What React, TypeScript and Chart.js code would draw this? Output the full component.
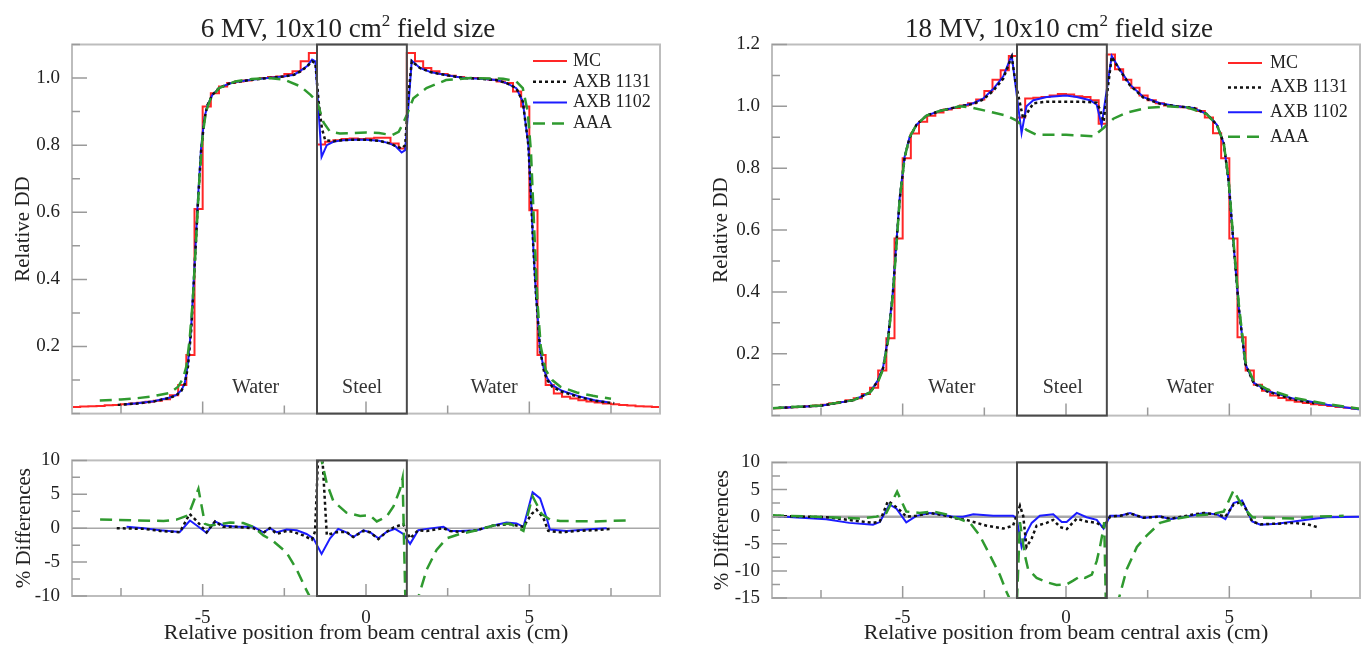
import React, { useEffect, useRef } from "react";
import { Chart, registerables } from "chart.js";

Chart.register(...registerables);

const SERIF = "'Liberation Serif', 'Times New Roman', Times, serif";
const TEXT = "#222222";

// ---------- shared axes / geometry data ----------
const STEEL_SLAB = [-1.5, 1.25];
const X_TICKS = [-7.5, -5, -2.5, 0, 2.5, 5, 7.5];
const X_LABELS = [-5, 0, 5];
const REGION_NAMES = ["Water", "Steel", "Water"];
const SERIES_LABELS = ["MC", "AXB 1131", "AXB 1102", "AAA"];

const Y6_TOP_TICKS = [0, 0.1, 0.2, 0.3, 0.4, 0.5, 0.6, 0.7, 0.8, 0.9, 1.0, 1.1];
const Y6_TOP_LABELS = [0.2, 0.4, 0.6, 0.8, 1.0];
const Y18_TOP_TICKS = [0, 0.1, 0.2, 0.3, 0.4, 0.5, 0.6, 0.7, 0.8, 0.9, 1.0, 1.1, 1.2];
const Y18_TOP_LABELS = [0.2, 0.4, 0.6, 0.8, 1.0, 1.2];
const Y6_DIFF_TICKS = [-10, -7.5, -5, -2.5, 0, 2.5, 5, 7.5, 10];
const Y6_DIFF_LABELS = [-10, -5, 0, 5, 10];
const Y18_DIFF_TICKS = [-15, -12.5, -10, -7.5, -5, -2.5, 0, 2.5, 5, 7.5, 10];
const Y18_DIFF_LABELS = [-15, -10, -5, 0, 5, 10];

const REGION_X_6 = [-3.38, -0.12, 3.92];
const REGION_X_18 = [-3.5, -0.1, 3.8];

// ---------- MC histogram (0.25 cm bins) ----------
const MC_EDGES = [
  -9, -8.75, -8.5, -8.25, -8, -7.75, -7.5, -7.25, -7, -6.75, -6.5, -6.25, -6, -5.75, -5.5, -5.25,
  -5, -4.75, -4.5, -4.25, -4, -3.75, -3.5, -3.25, -3, -2.75, -2.5, -2.25, -2, -1.75, -1.5, -1.25,
  -1, -0.75, -0.5, -0.25, 0, 0.25, 0.5, 0.75, 1, 1.25, 1.5, 1.75, 2, 2.25, 2.5, 2.75, 3, 3.25,
  3.5, 3.75, 4, 4.25, 4.5, 4.75, 5, 5.25, 5.5, 5.75, 6, 6.25, 6.5, 6.75, 7, 7.25, 7.5, 7.75, 8,
  8.25, 8.5, 8.75, 9,
];

const MV6_MC = [
  0.02, 0.021, 0.022, 0.023, 0.025, 0.026, 0.028, 0.03, 0.032, 0.035, 0.038, 0.043, 0.055, 0.085,
  0.175, 0.61, 0.915, 0.955, 0.975, 0.985, 0.99, 0.993, 0.997, 1.0, 1.003, 1.005, 1.012, 1.02,
  1.05, 1.075,
  0.802, 0.81, 0.815, 0.818, 0.82, 0.818, 0.82, 0.822, 0.822, 0.805, 0.79,
  1.075, 1.05, 1.03, 1.02, 1.012, 1.007, 1.003, 1.0, 1.0, 0.998, 0.995, 0.99, 0.985, 0.96, 0.915,
  0.606, 0.175, 0.085, 0.06, 0.05, 0.045, 0.04, 0.036, 0.033, 0.03, 0.028, 0.026, 0.024, 0.022,
  0.021, 0.02,
];

const MV18_MC = [
  0.024, 0.025, 0.027, 0.028, 0.03, 0.033, 0.035, 0.04, 0.044, 0.05, 0.056, 0.07, 0.09, 0.146,
  0.25, 0.573, 0.832, 0.912, 0.95, 0.97, 0.98, 0.99, 0.995, 1.003, 1.01, 1.022, 1.05, 1.086,
  1.117, 1.163,
  0.964, 1.025, 1.028, 1.03, 1.035, 1.04, 1.038, 1.033, 1.03, 1.02, 0.944,
  1.168, 1.12, 1.086, 1.06, 1.035, 1.02, 1.01, 1.003, 1.0, 0.997, 0.993, 0.985, 0.964, 0.913,
  0.832, 0.573, 0.253, 0.146, 0.1, 0.08, 0.065, 0.057, 0.05, 0.045, 0.041, 0.037, 0.034, 0.031,
  0.028, 0.025, 0.022,
];

// ---------- 6 MV profiles ----------
const MV6_AXB1102_X = [
  -7.4, -7.0, -6.5, -6.0, -5.8, -5.65, -5.55, -5.45, -5.35, -5.25, -5.15, -5.05, -4.95, -4.85,
  -4.7, -4.5, -4.2, -4.0, -3.5, -3.0, -2.5, -2.2, -2.0, -1.8, -1.65, -1.55, -1.36, -1.2, -1.0,
  -0.7, -0.4, 0.0, 0.4, 0.7, 0.9, 1.09, 1.2, 1.4, 1.65, 2.0, 2.5, 3.0, 3.5, 4.0, 4.3, 4.6, 4.8,
  4.97, 5.05, 5.12, 5.2, 5.33, 5.45, 5.55, 5.7, 6.0, 6.5, 7.0, 7.4,
];
const MV6_AXB1102_Y = [
  0.027, 0.031, 0.037, 0.048, 0.056, 0.07, 0.09, 0.15, 0.26, 0.44, 0.63, 0.79, 0.88, 0.92, 0.95,
  0.97, 0.983, 0.988, 0.995, 1.0, 1.005, 1.01, 1.022, 1.036, 1.055, 1.05, 0.765, 0.8, 0.81, 0.815,
  0.816, 0.816, 0.813, 0.806, 0.797, 0.778, 0.785, 1.052, 1.03, 1.017, 1.008, 1.0, 0.998, 0.994,
  0.985, 0.97, 0.93, 0.8, 0.65, 0.5, 0.36, 0.19, 0.13, 0.105, 0.085, 0.068, 0.052, 0.04, 0.034,
];
const MV6_AXB1131_X = [
  -7.6, -7.0, -6.5, -6.0, -5.8, -5.65, -5.55, -5.45, -5.35, -5.25, -5.15, -5.05, -4.95, -4.85,
  -4.7, -4.5, -4.2, -4.0, -3.5, -3.0, -2.5, -2.2, -2.0, -1.8, -1.65, -1.55, -1.45, -1.35, -1.25,
  -1.0, -0.7, -0.4, 0.0, 0.4, 0.7, 0.9, 1.09, 1.2, 1.3, 1.4, 1.65, 2.0, 2.5, 3.0, 3.5, 4.0, 4.3,
  4.6, 4.8, 4.97, 5.05, 5.12, 5.2, 5.33, 5.45, 5.55, 5.7, 6.0, 6.5, 7.0, 7.6,
];
const MV6_AXB1131_Y = [
  0.026, 0.03, 0.036, 0.047, 0.055, 0.068, 0.088, 0.14, 0.25, 0.43, 0.62, 0.78, 0.875, 0.92, 0.95,
  0.97, 0.983, 0.988, 0.995, 1.0, 1.005, 1.01, 1.02, 1.035, 1.05, 1.045, 0.93, 0.85, 0.815, 0.812,
  0.815, 0.816, 0.816, 0.813, 0.806, 0.798, 0.79, 0.8, 0.95, 1.05, 1.03, 1.017, 1.008, 1.0, 0.998,
  0.994, 0.985, 0.97, 0.93, 0.8, 0.65, 0.5, 0.36, 0.19, 0.125, 0.1, 0.08, 0.065, 0.05, 0.038,
  0.031,
];
const MV6_AAA_X = [
  -8.15, -7.5, -7.0, -6.5, -6.0, -5.75, -5.6, -5.5, -5.4, -5.3, -5.2, -5.1, -5.0, -4.9, -4.75,
  -4.5, -4.0, -3.5, -3.0, -2.5, -2.0, -1.7, -1.5, -1.3, -1.1, -0.8, -0.4, 0.0, 0.4, 0.8, 1.0, 1.1,
  1.25, 1.45, 1.85, 2.45, 3.2, 4.2, 4.6, 4.8, 4.95, 5.05, 5.15, 5.25, 5.35, 5.5, 5.7, 5.95, 6.45,
  6.95, 7.5,
];
const MV6_AAA_Y = [
  0.039, 0.042, 0.046, 0.052, 0.062, 0.08, 0.105, 0.14, 0.22, 0.34, 0.52, 0.7, 0.83, 0.9, 0.94,
  0.97, 0.99, 0.997, 1.0, 0.995, 0.975, 0.95, 0.93, 0.868, 0.84, 0.835, 0.836, 0.838, 0.836, 0.83,
  0.84, 0.858, 0.89, 0.94, 0.97, 0.994, 1.0, 0.998, 0.99, 0.97, 0.9, 0.78, 0.55, 0.33, 0.2, 0.13,
  0.1, 0.08, 0.063, 0.053, 0.044,
];

// ---------- 6 MV % differences ----------
const DIFF6_AXB1131_X = [
  -7.63, -6.8, -6.3, -5.7, -5.4, -5.18, -4.88, -4.62, -4.37, -3.96, -3.45, -3.14, -2.94, -2.73,
  -2.43, -2.22, -1.92, -1.66, -1.56, -1.47, -1.33, -1.2, -0.9, -0.6, -0.39, -0.08, 0.12, 0.38,
  0.63, 0.84, 1.14, 1.35, 1.6, 1.86, 2.37, 2.57, 2.88, 3.39, 3.9, 4.4, 4.82, 5.07, 5.22, 5.43,
  5.58, 5.94, 6.45, 6.96, 7.52,
];
const DIFF6_AXB1131_Y = [
  0.0, -0.1, -0.4, -0.6, 2.1, 1.06, -0.6, 1.0, 0.2, 0.2, 0.0, -0.7, 0.0, -0.85, -0.4, -0.55,
  -1.06, -1.7, -0.5, 10.0, 10.0, -1.0, -0.6, -0.55, -1.3, -0.4, -0.6, -1.6, -0.55, 0.1, 0.6, -1.5,
  -0.3, -0.4, 0.0, -0.4, -0.55, -0.3, 0.4, 0.6, 0.2, 2.1, 2.75, 1.5, -0.4, -0.6, -0.4, -0.3, -0.1,
];
const DIFF6_AXB1102_X = [
  -7.33, -6.8, -6.3, -5.7, -5.39, -5.18, -4.88, -4.62, -4.37, -3.96, -3.45, -3.14, -2.94, -2.73,
  -2.43, -2.12, -1.82, -1.61, -1.36, -1.1, -0.85, -0.6, -0.39, -0.08, 0.12, 0.38, 0.63, 0.89, 1.14,
  1.35, 1.6, 1.86, 2.37, 2.57, 2.88, 3.39, 3.9, 4.3, 4.61, 4.82, 5.1, 5.33, 5.53, 5.63, 6.14, 6.96,
  7.37,
];
const DIFF6_AXB1102_Y = [
  0.2, 0.0, -0.3, -0.55, 1.14, 0.4, -0.7, 1.0, 0.4, 0.2, 0.2, -0.6, 0.0, -0.6, -0.2, -0.3, -0.85,
  -1.5, -3.8, -1.5, -0.1, -0.6, -1.3, -0.3, -0.6, -1.5, -0.55, -0.1, -0.85, -2.3, -0.3, -0.1, 0.2,
  -0.4, -0.4, -0.3, 0.4, 0.85, 0.7, 0.2, 5.3, 4.4, 1.5, -0.2, -0.4, -0.1, 0.0,
];
const DIFF6_AAA_X = [
  -8.14, -7.0, -6.2, -5.8, -5.44, -5.13, -4.93, -4.78, -4.47, -4.16, -3.76, -3.45, -3.14, -2.84,
  -2.43, -2.12, -1.87, -1.71, -1.62, -1.5, -1.4, -1.36, -1.2, -1.0, -0.6, -0.18, 0.12, 0.33, 0.63,
  0.84, 1.04, 1.12, 1.25, 1.45, 1.6, 1.86, 2.16, 2.47, 2.88, 3.39, 3.9, 4.4, 4.82, 5.1, 5.38, 5.63,
  5.94, 6.96, 8.03,
];
const DIFF6_AAA_Y = [
  1.27, 1.15, 1.06, 1.27, 1.9, 5.8, 0.64, 0.4, 0.6, 0.85, 0.76, 0.2, -1.06, -1.9, -3.6, -6.1,
  -8.7, -10.2, -13, null, 14, 10, 6.6, 4.0, 2.3, 1.8, 1.9, 1.0, 1.7, 3.2, 5.7, 7.4, -20, -16,
  -10.2, -6.1, -3.2, -1.5, -0.85, -0.3, 0.4, 0.7, -0.4, 4.7, 2.1, 1.27, 1.06, 1.0, 1.14,
];

// ---------- 18 MV profiles ----------
const MV18_AXB1102_X = [
  -9.0, -7.5, -6.5, -6.0, -5.75, -5.6, -5.45, -5.3, -5.19, -5.09, -4.94, -4.79, -4.58, -4.27,
  -3.87, -3.25, -2.84, -2.54, -2.23, -1.92, -1.72, -1.66, -1.36, -1.21, -1.0, -0.59, 0.0, 0.33,
  0.74, 0.94, 1.09, 1.4, 1.66, 1.96, 2.37, 2.88, 3.39, 3.9, 4.31, 4.62, 4.83, 4.98, 5.13, 5.29,
  5.49, 5.75, 6.16, 6.97, 8.0, 9.0,
];
const MV18_AXB1102_Y = [
  0.024, 0.032, 0.05, 0.075, 0.116, 0.156, 0.25, 0.4, 0.563, 0.705, 0.837, 0.9, 0.94, 0.97, 0.985,
  1.0, 1.01, 1.025, 1.056, 1.097, 1.15, 1.163, 0.914, 1.0, 1.02, 1.03, 1.035, 1.03, 1.02, 1.005,
  0.94, 1.163, 1.117, 1.07, 1.03, 1.01, 1.0, 0.995, 0.975, 0.94, 0.88, 0.756, 0.553, 0.35, 0.167,
  0.106, 0.08, 0.055, 0.035, 0.02,
];
const MV18_AXB1131_X = [
  -8.8, -7.5, -6.5, -6.0, -5.75, -5.6, -5.45, -5.3, -5.19, -5.09, -4.94, -4.79, -4.58, -4.27,
  -3.87, -3.25, -2.84, -2.54, -2.23, -1.92, -1.72, -1.66, -1.55, -1.31, -1.21, -1.0, -0.59, 0.0,
  0.5, 0.94, 1.04, 1.15, 1.4, 1.66, 1.96, 2.37, 2.88, 3.39, 3.9, 4.31, 4.62, 4.83, 4.98, 5.13,
  5.29, 5.49, 5.75, 6.16, 6.97, 7.6,
];
const MV18_AXB1131_Y = [
  0.025, 0.032, 0.05, 0.074, 0.114, 0.153, 0.245, 0.395, 0.558, 0.7, 0.834, 0.898, 0.94, 0.97,
  0.985, 1.0, 1.008, 1.022, 1.05, 1.09, 1.145, 1.16, 1.08, 0.96, 0.975, 1.01, 1.015, 1.015, 1.015,
  1.012, 0.99, 0.95, 1.16, 1.115, 1.068, 1.028, 1.008, 1.0, 0.995, 0.975, 0.94, 0.88, 0.756,
  0.553, 0.35, 0.167, 0.104, 0.078, 0.052, 0.04,
];
const MV18_AAA_X = [
  -9.0, -7.5, -6.5, -6.0, -5.75, -5.6, -5.45, -5.3, -5.19, -5.09, -4.94, -4.79, -4.58, -4.27,
  -3.87, -3.25, -2.84, -2.23, -1.82, -1.51, -1.21, -0.9, 0.0, 0.84, 1.15, 1.45, 1.86, 2.47, 3.09,
  3.7, 4.31, 4.62, 4.83, 4.98, 5.13, 5.29, 5.49, 5.75, 6.16, 6.97, 8.0, 9.0,
];
const MV18_AAA_Y = [
  0.024, 0.033, 0.05, 0.075, 0.11, 0.15, 0.24, 0.39, 0.55, 0.7, 0.835, 0.9, 0.94, 0.97, 0.985,
  1.0, 0.995, 0.98, 0.97, 0.954, 0.924, 0.908, 0.908, 0.903, 0.93, 0.96, 0.98, 0.995, 1.0, 0.997,
  0.975, 0.94, 0.88, 0.76, 0.56, 0.36, 0.175, 0.11, 0.085, 0.058, 0.037, 0.022,
];

// ---------- 18 MV % differences ----------
const DIFF18_AXB1102_X = [
  -9.0, -8.36, -7.34, -6.63, -5.91, -5.7, -5.4, -5.19, -4.89, -4.58, -4.17, -3.87, -3.46, -3.15,
  -2.84, -2.23, -1.62, -1.51, -1.36, -1.21, -1.05, -0.8, -0.39, -0.13, 0.02, 0.33, 0.63, 0.94,
  1.15, 1.35, 1.66, 1.96, 2.37, 2.88, 3.19, 3.9, 4.21, 4.62, 4.88, 5.13, 5.39, 5.7, 5.95, 6.46,
  6.97, 7.48, 8.0, 9.0,
];
const DIFF18_AXB1102_Y = [
  0.15, -0.1, -0.47, -1.15, -1.5, -1.0, 2.24, 1.46, -1.04, 0.15, 0.68, 0.42, 0.0, 0.0, 0.42, 0.15,
  0.15, -0.3, -5.6, -3.0, -1.15, 0.15, 0.42, -1.0, -1.0, 0.68, -0.1, -0.6, -2.2, 0.15, 0.15, 0.68,
  -0.26, 0.05, -0.47, 0.26, 0.68, 0.42, -0.47, 2.5, 3.0, -0.9, -1.5, -1.3, -0.9, -0.5, -0.1, 0.0,
];
const DIFF18_AXB1131_X = [
  -9.0, -7.34, -5.91, -5.7, -5.45, -5.3, -5.09, -4.89, -4.58, -4.17, -3.66, -3.35, -3.05, -2.43,
  -1.92, -1.62, -1.41, -1.31, -1.21, -1.05, -0.9, -0.59, -0.39, -0.18, 0.02, 0.33, 0.63, 0.94,
  1.15, 1.35, 1.66, 1.96, 2.37, 2.88, 3.19, 3.9, 4.21, 4.62, 4.88, 5.13, 5.39, 5.7, 5.95, 6.46,
  6.97, 7.38, 7.69,
];
const DIFF18_AXB1131_Y = [
  0.15, -0.1, -1.15, -0.9, 2.86, 2.24, 1.2, 0.0, 0.15, 0.68, 0.15, -0.36, -0.6, -1.67, -2.2,
  -1.67, 2.0, 0.15, -5.6, -4.0, -1.67, -1.15, -0.6, -1.93, -2.3, -0.36, -0.9, -1.15, -1.93, 0.0,
  0.15, 0.6, -0.2, 0.0, -0.4, 0.4, 0.68, 0.42, 0.0, 2.24, 2.76, -0.9, -1.4, -1.3, -1.15, -1.4,
  -1.93,
];
const DIFF18_AAA_X = [
  -9.0, -7.34, -6.32, -5.8, -5.5, -5.17, -4.89, -4.48, -4.07, -3.66, -3.25, -2.94, -2.64, -2.33,
  -2.02, -1.82, -1.72, -1.56, -1.41, -1.26, -1.16, -0.9, -0.59, -0.29, 0.02, 0.22, 0.43, 0.58,
  0.79, 0.94, 1.04, 1.12, 1.17, 1.25, 1.5, 1.6, 1.86, 2.17, 2.47, 2.88, 3.29, 3.9, 4.42, 4.83,
  5.13, 5.39, 5.7, 5.95, 6.97, 7.59, 8.5,
];
const DIFF18_AAA_Y = [
  0.26, -0.1, -0.36, 0.0, 0.68, 4.6, 0.94, 0.68, 0.94, 0.42, -0.47, -1.15, -3.5, -7.1, -10.8,
  -13.9, -15.2, -25, -1.0, -7.1, -9.7, -11.3, -12.1, -12.6, -12.5, -11.8, -11.0, -11.3, -10.7,
  -8.2, -5.6, -3.0, -1.0, -25, -25, -15.5, -9.7, -5.6, -3.5, -1.15, -0.47, 0.15, 0.42, 0.94, 4.84,
  2.0, -0.1, -0.2, -0.36, 0.0, 0.15,
];

// ---------- styling ----------
type Style = { color: string; width: number; dash: number[]; order: number };
const STYLE_MC: Style = { color: "#ff2626", width: 2, dash: [], order: 4 };
const STYLE_1131: Style = { color: "#111111", width: 2.5, dash: [3, 3], order: 2 };
const STYLE_1102: Style = { color: "#1c1cff", width: 2, dash: [], order: 3 };
const STYLE_AAA: Style = { color: "#2f9a2f", width: 2.5, dash: [12, 7], order: 1 };

type Series = { label: string; xs: number[]; ys: (number | null)[]; style: Style; stepped?: boolean };

interface PanelSpec {
  left: number;
  top: number;
  w: number;
  h: number;
  pad: { left: number; right: number; top: number; bottom: number };
  series: Series[];
  yMin: number;
  yMax: number;
  yTicks: number[];
  yLabels: number[];
  yDecimals: number;
  yWidth: number;
  yTitle: string;
  yTitlePad: number;
  showX: boolean;
  xHeight?: number;
  xTickPad?: number;
  xTitlePad?: number;
  zeroLine?: number;
  regions?: { xs: number[]; y: number };
  legend?: { x0: number; x1: number; tx: number; y0: number; dy: number };
}

const has = (arr: number[], v: number) => arr.some((a) => Math.abs(a - v) < 1e-9);

function decor(p: PanelSpec) {
  return {
    id: "decor",
    beforeDatasetsDraw(chart: any) {
      if (!p.zeroLine) return;
      const { ctx, chartArea: a, scales } = chart;
      const y0 = scales.y.getPixelForValue(0);
      ctx.save();
      ctx.strokeStyle = "#a8a8a8";
      ctx.lineWidth = p.zeroLine;
      ctx.beginPath();
      ctx.moveTo(a.left, y0);
      ctx.lineTo(a.right, y0);
      ctx.stroke();
      ctx.restore();
    },
    afterDatasetsDraw(chart: any) {
      const { ctx, chartArea: a, scales } = chart;
      const xs = scales.x;
      const ys = scales.y;
      ctx.save();
      ctx.setLineDash([]);
      // frame
      ctx.strokeStyle = "#bdbdbd";
      ctx.lineWidth = 2;
      ctx.strokeRect(a.left, a.top, a.right - a.left, a.bottom - a.top);
      // inward tick marks
      ctx.strokeStyle = "#9a9a9a";
      ctx.lineWidth = 1.5;
      ctx.beginPath();
      p.yTicks.forEach((v) => {
        const py = ys.getPixelForValue(v);
        const len = has(p.yLabels, v) ? 15 : 8;
        ctx.moveTo(a.left, py);
        ctx.lineTo(a.left + len, py);
      });
      X_TICKS.forEach((v) => {
        const px = xs.getPixelForValue(v);
        const len = has(X_LABELS, v) ? 12 : 8;
        ctx.moveTo(px, a.bottom);
        ctx.lineTo(px, a.bottom - len);
      });
      ctx.stroke();
      // steel slab box
      const s0 = xs.getPixelForValue(STEEL_SLAB[0]);
      const s1 = xs.getPixelForValue(STEEL_SLAB[1]);
      ctx.strokeStyle = "#4a4a4a";
      ctx.lineWidth = 2;
      ctx.strokeRect(s0, a.top, s1 - s0, a.bottom - a.top);
      // region labels
      if (p.regions) {
        ctx.fillStyle = "#333333";
        ctx.font = `20px ${SERIF}`;
        ctx.textAlign = "center";
        ctx.textBaseline = "middle";
        const py = ys.getPixelForValue(p.regions.y);
        REGION_NAMES.forEach((t, i) => {
          ctx.fillText(t, xs.getPixelForValue(p.regions!.xs[i]), py);
        });
      }
      // legend
      if (p.legend) {
        const L = p.legend;
        ctx.font = `18px ${SERIF}`;
        ctx.textAlign = "left";
        ctx.textBaseline = "middle";
        ctx.fillStyle = TEXT;
        p.series.forEach((s, i) => {
          const yy = L.y0 + i * L.dy;
          ctx.strokeStyle = s.style.color;
          ctx.lineWidth = s.style.width;
          ctx.setLineDash(s.style.dash);
          ctx.beginPath();
          ctx.moveTo(L.x0, yy);
          ctx.lineTo(L.x1, yy);
          ctx.stroke();
          ctx.setLineDash([]);
          ctx.fillText(s.label, L.tx, yy);
        });
      }
      ctx.restore();
    },
  };
}

function buildConfig(p: PanelSpec): any {
  const yLabelFmt = (v: number) => (has(p.yLabels, v) ? v.toFixed(p.yDecimals) : "");
  const xScale = p.showX
    ? {
        type: "linear",
        min: -9,
        max: 9,
        afterBuildTicks: (s: any) => {
          s.ticks = X_TICKS.map((v) => ({ value: v }));
        },
        afterFit: (s: any) => {
          s.height = p.xHeight;
        },
        grid: { display: false, drawTicks: false },
        border: { display: false },
        ticks: {
          autoSkip: false,
          maxRotation: 0,
          padding: p.xTickPad,
          color: TEXT,
          font: { family: SERIF, size: 19 },
          callback: (v: number) => (has(X_LABELS, v) ? String(v) : ""),
        },
        title: {
          display: true,
          text: "Relative position from beam central axis (cm)",
          color: TEXT,
          font: { family: SERIF, size: 22 },
          padding: { top: 0, bottom: p.xTitlePad },
        },
      }
    : { type: "linear", min: -9, max: 9, display: false };

  return {
    type: "line",
    data: {
      datasets: p.series.map((s) => ({
        label: s.label,
        data: s.xs.map((x, i) => ({ x, y: s.ys[i] })),
        borderColor: s.style.color,
        backgroundColor: s.style.color,
        borderWidth: s.style.width,
        borderDash: s.style.dash,
        order: s.style.order,
        pointRadius: 0,
        pointHoverRadius: 0,
        fill: false,
        tension: 0,
        spanGaps: false,
        stepped: s.stepped ? "before" : false,
      })),
    },
    options: {
      animation: false,
      responsive: false,
      devicePixelRatio: 1,
      events: [],
      layout: { padding: p.pad },
      plugins: {
        legend: { display: false },
        tooltip: { enabled: false },
        title: { display: false },
      },
      scales: {
        x: xScale,
        y: {
          type: "linear",
          min: p.yMin,
          max: p.yMax,
          afterBuildTicks: (s: any) => {
            s.ticks = p.yTicks.map((v) => ({ value: v }));
          },
          afterFit: (s: any) => {
            s.width = p.yWidth;
          },
          grid: { display: false, drawTicks: false },
          border: { display: false },
          ticks: {
            autoSkip: false,
            padding: 12,
            color: TEXT,
            font: { family: SERIF, size: 19 },
            callback: (v: number) => yLabelFmt(v),
          },
          title: {
            display: true,
            text: p.yTitle,
            color: TEXT,
            font: { family: SERIF, size: 21 },
            padding: { top: p.yTitlePad, bottom: 0 },
          },
        },
      },
    },
    plugins: [decor(p)],
  };
}

const withLast = (arr: number[]) => [...arr, arr[arr.length - 1]];

const PANELS: PanelSpec[] = [
  {
    left: 0,
    top: 0,
    w: 680,
    h: 437,
    pad: { left: 0, right: 20, top: 44.5, bottom: 1 },
    series: [
      { label: SERIES_LABELS[0], xs: MC_EDGES, ys: withLast(MV6_MC), style: STYLE_MC, stepped: true },
      { label: SERIES_LABELS[1], xs: MV6_AXB1131_X, ys: MV6_AXB1131_Y, style: STYLE_1131 },
      { label: SERIES_LABELS[2], xs: MV6_AXB1102_X, ys: MV6_AXB1102_Y, style: STYLE_1102 },
      { label: SERIES_LABELS[3], xs: MV6_AAA_X, ys: MV6_AAA_Y, style: STYLE_AAA },
    ],
    yMin: 0,
    yMax: 1.1,
    yTicks: Y6_TOP_TICKS,
    yLabels: Y6_TOP_LABELS,
    yDecimals: 1,
    yWidth: 72,
    yTitle: "Relative DD",
    yTitlePad: 10.4,
    showX: false,
    regions: { xs: REGION_X_6, y: 0.077 },
    legend: { x0: 533, x1: 567, tx: 573, y0: 61, dy: 20.8 },
  },
  {
    left: 0,
    top: 437,
    w: 680,
    h: 213,
    pad: { left: 0, right: 20, top: 1, bottom: 0 },
    series: [
      { label: SERIES_LABELS[1], xs: DIFF6_AXB1131_X, ys: DIFF6_AXB1131_Y, style: STYLE_1131 },
      { label: SERIES_LABELS[2], xs: DIFF6_AXB1102_X, ys: DIFF6_AXB1102_Y, style: STYLE_1102 },
      { label: SERIES_LABELS[3], xs: DIFF6_AAA_X, ys: DIFF6_AAA_Y, style: STYLE_AAA },
    ],
    yMin: -10,
    yMax: 10,
    yTicks: Y6_DIFF_TICKS,
    yLabels: Y6_DIFF_LABELS,
    yDecimals: 0,
    yWidth: 72,
    yTitle: "% Differences",
    yTitlePad: 11.4,
    showX: true,
    xHeight: 54,
    xTickPad: 10.2,
    xTitlePad: 3.3,
    zeroLine: 1.5,
  },
  {
    left: 680,
    top: 0,
    w: 688,
    h: 439,
    pad: { left: 0, right: 8, top: 44.5, bottom: 1 },
    series: [
      { label: SERIES_LABELS[0], xs: MC_EDGES, ys: withLast(MV18_MC), style: STYLE_MC, stepped: true },
      { label: SERIES_LABELS[1], xs: MV18_AXB1131_X, ys: MV18_AXB1131_Y, style: STYLE_1131 },
      { label: SERIES_LABELS[2], xs: MV18_AXB1102_X, ys: MV18_AXB1102_Y, style: STYLE_1102 },
      { label: SERIES_LABELS[3], xs: MV18_AAA_X, ys: MV18_AAA_Y, style: STYLE_AAA },
    ],
    yMin: 0,
    yMax: 1.2,
    yTicks: Y18_TOP_TICKS,
    yLabels: Y18_TOP_LABELS,
    yDecimals: 1,
    yWidth: 92,
    yTitle: "Relative DD",
    yTitlePad: 28.4,
    showX: false,
    regions: { xs: REGION_X_18, y: 0.09 },
    legend: { x0: 548, x1: 582, tx: 590, y0: 63, dy: 24.6 },
  },
  {
    left: 680,
    top: 439,
    w: 688,
    h: 211,
    pad: { left: 0, right: 8, top: 1, bottom: 0 },
    series: [
      { label: SERIES_LABELS[1], xs: DIFF18_AXB1131_X, ys: DIFF18_AXB1131_Y, style: STYLE_1131 },
      { label: SERIES_LABELS[2], xs: DIFF18_AXB1102_X, ys: DIFF18_AXB1102_Y, style: STYLE_1102 },
      { label: SERIES_LABELS[3], xs: DIFF18_AAA_X, ys: DIFF18_AAA_Y, style: STYLE_AAA },
    ],
    yMin: -15,
    yMax: 10,
    yTicks: Y18_DIFF_TICKS,
    yLabels: Y18_DIFF_LABELS,
    yDecimals: 0,
    yWidth: 92,
    yTitle: "% Differences",
    yTitlePad: 29.4,
    showX: true,
    xHeight: 52,
    xTickPad: 8.2,
    xTitlePad: 3.3,
    zeroLine: 2.5,
  },
];

const TITLES = [
  { energy: "6 MV", cx: 348 },
  { energy: "18 MV", cx: 1059 },
];

function Panel({ spec }: { spec: PanelSpec }) {
  const ref = useRef<HTMLCanvasElement | null>(null);
  useEffect(() => {
    if (!ref.current) return;
    const chart = new Chart(ref.current, buildConfig(spec));
    return () => chart.destroy();
  }, [spec]);
  return (
    <canvas
      ref={ref}
      width={spec.w}
      height={spec.h}
      style={{ position: "absolute", left: spec.left, top: spec.top, width: spec.w, height: spec.h }}
    />
  );
}

export default function App() {
  return (
    <div
      style={{
        position: "fixed",
        left: 0,
        top: 0,
        width: 1368,
        height: 650,
        background: "#ffffff",
        overflow: "hidden",
      }}
    >
      {PANELS.map((p, i) => (
        <Panel key={i} spec={p} />
      ))}
      {TITLES.map((t, i) => (
        <div
          key={i}
          style={{
            position: "absolute",
            left: t.cx - 250,
            top: 15,
            width: 500,
            textAlign: "center",
            fontFamily: SERIF,
            fontSize: 27,
            lineHeight: "27px",
            color: TEXT,
            whiteSpace: "nowrap",
          }}
        >
          {t.energy}, 10x10 cm
          <span style={{ fontSize: 17, position: "relative", top: -11 }}>2</span> field size
        </div>
      ))}
    </div>
  );
}
